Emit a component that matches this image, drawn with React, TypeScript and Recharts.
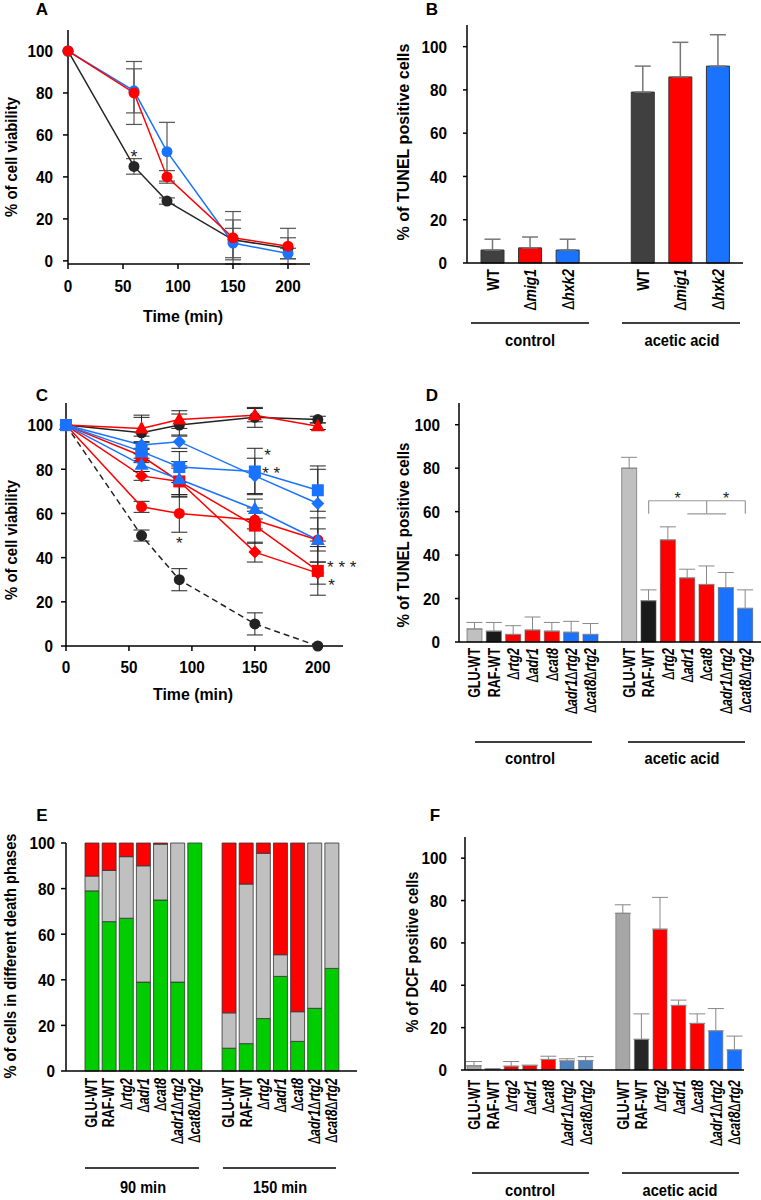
import React from 'react';
import {
  LineChart,
  Line,
  BarChart,
  Bar,
  XAxis,
  YAxis,
  ErrorBar,
  Cell,
  ReferenceLine,
  ReferenceDot,
} from 'recharts';

const FONT = "'Liberation Sans', Arial, sans-serif";

// ---- panel A: viability over time ----
const timeA = [0, 60, 90, 150, 200];
const wtA = [100, 45, 28.5, 10, 6];
const wtErrA = [0, 3.7, 1.5, 9.5, 5];
const mig1A = [100, 80, 40, 11, 7];
const mig1ErrA = [0, 15, 3, 12.5, 8.5];
const hxk2A = [100, 81, 52, 8.5, 3.5];
const hxk2ErrA = [0, 10.5, 14, 7, 2.5];

// ---- panel B: TUNEL ----
const strainsB = ['WT', 'Δmig1', 'Δhxk2'];
const controlB = [6, 7, 6];
const controlErrB = [5, 5, 5];
const aceticB = [79, 86, 91];
const aceticErrB = [12, 16, 14.5];

// ---- panel C: viability, raffinose strains ----
const timeC = [0, 60, 90, 150, 200];
const gluWtC = [100, 50, 30, 10, 0];
const gluWtErrC = [0, 2.5, 5, 5, 0];
const rafWtC = [100, 96.5, 100, 103.5, 102.5];
const rafWtErrC = [0, 7, 5, 4.5, 1.5];
const redTriC = [100, 98.5, 102.5, 104.5, 99.5];
const redTriErrC = [0, 6, 4, 3, 1.5];
const redCircC = [100, 63, 60, 57, 48];
const redCircErrC = [0, 2.5, 8.5, 4, 10];
const redDiaC = [100, 77, 74.5, 42.5, 33];
const redDiaErrC = [0, 2, 6, 4.5, 5];
const redSqC = [100, 86, 74.5, 54.5, 34];
const redSqErrC = [0, 3, 7, 8, 11];
const blueDiaC = [100, 91, 92.5, 77, 64.5];
const blueDiaErrC = [0, 4, 3, 8, 17];
const blueSqC = [100, 88, 81, 79, 70.5];
const blueSqErrC = [0, 4, 7, 10.5, 9.5];
const blueTriC = [100, 82, 75.5, 62, 48];
const blueTriErrC = [0, 3, 8, 4.5, 5];
const starsC = [
  { t: 160, v: 88, text: '*' },
  { t: 163, v: 80, text: '* *' },
  { t: 90, v: 48.5, text: '*' },
  { t: 219, v: 37.5, text: '* * *' },
  { t: 211, v: 29.5, text: '*' },
];

// ---- panels D-F ----
const strainsD = ['GLU-WT', 'RAF-WT', 'Δrtg2', 'Δadr1', 'Δcat8', 'Δadr1Δrtg2', 'Δcat8Δrtg2'];

const controlD = [6, 5, 3.5, 5.5, 5, 4.5, 3.5];
const controlErrD = [3, 4, 4, 6, 4, 5, 5];
const aceticD = [80, 19, 47, 29.5, 26.5, 25, 15.5];
const aceticErrD = [5, 5, 6, 4, 8.5, 7, 8.5];

const green90E = [79, 65.5, 67, 39, 75, 39, 100];
const gray90E = [6.5, 22.5, 27, 51, 24.5, 61, 0];
const red90E = [14.5, 12, 6, 10, 0.5, 0, 0];
const green150E = [10, 12, 23, 41.5, 13, 27.5, 45];
const gray150E = [15.5, 70, 72.5, 9.5, 13, 72.5, 55];
const red150E = [74.5, 18, 4.5, 49, 74, 0, 0];

const controlF = [2, 0.5, 1.8, 2.2, 5, 4.3, 4.5];
const controlErrF = [2, 0, 2.2, 0, 1.5, 1, 1.8];
const aceticF = [74, 14.5, 66.5, 30.5, 22, 18.5, 9.5];
const aceticErrF = [4, 12, 15, 2.5, 4.5, 10.5, 6.5];

const pctTicks = [0, 20, 40, 60, 80, 100];
const timeTicks = [0, 50, 100, 150, 200];

const RED = '#ff0000';
const BLUE = '#1a73ff';

type BarRow = { key: string; label: string; v: number | null; err: [number, number] | null; fill: string };

function groupRows(labels: string[], ctrl: number[], ctrlErr: number[], acid: number[], acidErr: number[], ctrlFill: string[], acidFill: string[]): BarRow[] {
  const rows: BarRow[] = labels.map((l, i) => ({ key: 'c' + i, label: l, v: ctrl[i], err: [0, ctrlErr[i]], fill: ctrlFill[i] }));
  rows.push({ key: 'gap', label: '', v: null, err: null, fill: 'none' });
  labels.forEach((l, i) => rows.push({ key: 'a' + i, label: l, v: acid[i], err: [0, acidErr[i]], fill: acidFill[i] }));
  return rows;
}

const rowsA = timeA.map((t, i) => ({ t, wt: wtA[i], wtErr: wtErrA[i], mig1: mig1A[i], mig1Err: mig1ErrA[i], hxk2: hxk2A[i], hxk2Err: hxk2ErrA[i] }));

const rowsB = groupRows(strainsB, controlB, controlErrB, aceticB, aceticErrB, ['#404040', RED, BLUE], ['#404040', RED, BLUE]);

const seriesC = [
  { key: 'gluWt', vals: gluWtC, err: gluWtErrC, color: '#222', shape: 'circle', dash: '6 4' },
  { key: 'rafWt', vals: rafWtC, err: rafWtErrC, color: '#222', shape: 'circle' },
  { key: 'redTri', vals: redTriC, err: redTriErrC, color: RED, shape: 'triangle' },
  { key: 'redCirc', vals: redCircC, err: redCircErrC, color: RED, shape: 'circle' },
  { key: 'redDia', vals: redDiaC, err: redDiaErrC, color: RED, shape: 'diamond' },
  { key: 'redSq', vals: redSqC, err: redSqErrC, color: RED, shape: 'square' },
  { key: 'blueDia', vals: blueDiaC, err: blueDiaErrC, color: BLUE, shape: 'diamond' },
  { key: 'blueSq', vals: blueSqC, err: blueSqErrC, color: BLUE, shape: 'square' },
  { key: 'blueTri', vals: blueTriC, err: blueTriErrC, color: BLUE, shape: 'triangle' },
];
const rowsC = timeC.map((t, i) => {
  const r: any = { t };
  seriesC.forEach((s) => {
    r[s.key] = s.vals[i];
    r[s.key + 'Err'] = s.err[i];
  });
  return r;
});

const rowsD = groupRows(strainsD, controlD, controlErrD, aceticD, aceticErrD,
  ['#c0c0c0', '#1a1a1a', RED, RED, RED, BLUE, BLUE],
  ['#c0c0c0', '#1a1a1a', RED, RED, RED, BLUE, BLUE]);

const rowsE = [
  ...strainsD.map((l, i) => ({ key: 'c' + i, label: l, green: green90E[i], gray: gray90E[i], red: red90E[i] })),
  { key: 'gap', label: '', green: null, gray: null, red: null },
  ...strainsD.map((l, i) => ({ key: 'a' + i, label: l, green: green150E[i], gray: gray150E[i], red: red150E[i] })),
];

const rowsF = groupRows(strainsD, controlF, controlErrF, aceticF, aceticErrF,
  ['#a6a6a6', '#262626', RED, RED, RED, '#4f81bd', '#4f81bd'],
  ['#a6a6a6', '#262626', RED, RED, RED, BLUE, BLUE]);

const axisLine = { stroke: '#000', strokeWidth: 1.5 };
const NUM_SCALE = 0.9;

// number ticks, slightly squeezed to mimic the condensed bold face
const YNumTick = (props: any) => {
  const { x, y, payload } = props;
  return (
    <text transform={`translate(${x},${y}) scale(${NUM_SCALE},1)`} textAnchor="end" dominantBaseline="central" fontSize={17} fontWeight={700} fontFamily={FONT} fill="#000">
      {payload.value}
    </text>
  );
};
const XNumTick = (props: any) => {
  const { x, y, payload } = props;
  return (
    <text transform={`translate(${x},${y}) scale(${NUM_SCALE},1)`} textAnchor="middle" dy="0.71em" fontSize={17} fontWeight={700} fontFamily={FONT} fill="#000">
      {payload.value}
    </text>
  );
};

function LabelText({ text }: { text: string }) {
  const parts = text.split('Δ');
  return (
    <>
      {parts.map((p, i) => (
        <React.Fragment key={i}>
          {i > 0 && <tspan fontWeight={400} fontStyle="normal" fontFamily="'DejaVu Sans', sans-serif" fontSize="0.95em">Δ</tspan>}
          {p && <tspan fontStyle={i > 0 ? 'italic' : 'normal'}>{p}</tspan>}
        </React.Fragment>
      ))}
    </>
  );
}

const makeCatTick = (rows: { key: string; label: string }[], fontSize: number, squeeze: number) => (props: any) => {
  const { x, y, payload } = props;
  const row = rows.find((r) => r.key === payload.value);
  if (!row || !row.label) return <g />;
  return (
    <g transform={`translate(${x},${y})`}>
      <text transform={`rotate(-90) scale(${squeeze},1)`} textAnchor="end" dy="0.36em" fontSize={fontSize} fontWeight={700} fontFamily={FONT} fill="#000">
        <LabelText text={row.label} />
      </text>
    </g>
  );
};

function Marker({ cx, cy, shape, color }: { cx?: number; cy?: number; shape: string; color: string }) {
  if (cx == null || cy == null) return null;
  if (shape === 'square') return <rect x={cx - 6} y={cy - 6} width={12} height={12} fill={color} />;
  if (shape === 'triangle') return <polygon points={`${cx},${cy - 7.5} ${cx + 7},${cy + 5} ${cx - 7},${cy + 5}`} fill={color} />;
  if (shape === 'diamond') return <polygon points={`${cx},${cy - 6.5} ${cx + 6.5},${cy} ${cx},${cy + 6.5} ${cx - 6.5},${cy}`} fill={color} />;
  return <circle cx={cx} cy={cy} r={5.5} fill={color} />;
}

const star = (text: string, size = 18, dx = 0) => (p: any) => (
  <text x={p.cx + dx} y={p.cy + size * 0.58} textAnchor="middle" fontSize={size} fontFamily={FONT} fill="#222">
    {text}
  </text>
);

// overlay texts (titles, panel letters, group labels)
const T = ({ x, y, children, size = 17, len, rotate = false }: any) => (
  <text
    x={x}
    y={y}
    textAnchor="middle"
    dominantBaseline="central"
    fontSize={size}
    fontWeight={700}
    fontFamily={FONT}
    fill="#000"
    textLength={len}
    lengthAdjust={len ? 'spacingAndGlyphs' : undefined}
    transform={rotate ? `rotate(-90 ${x} ${y})` : undefined}
  >
    {children}
  </text>
);
const HL = ({ x1, x2, y }: { x1: number; x2: number; y: number }) => <line x1={x1} x2={x2} y1={y} y2={y} stroke="#000" strokeWidth={1.5} />;

const Box = ({ left, top, children }: any) => <div style={{ position: 'absolute', left, top }}>{children}</div>;

export default function App() {
  return (
    <div style={{ position: 'absolute', left: 0, top: 0, width: 761, height: 1200, background: '#fff', fontFamily: FONT }}>
      {/* A */}
      <Box left={0} top={0}>
        <LineChart width={330} height={300} data={rowsA} margin={{ top: 30, right: 20, bottom: 6, left: 0 }}>
          <XAxis dataKey="t" type="number" domain={[0, 220]} ticks={timeTicks} height={30} tickSize={5} tickMargin={11} axisLine={axisLine} tickLine={axisLine} tick={<XNumTick />} />
          <YAxis type="number" domain={[0, 110]} ticks={pctTicks} width={68} tickSize={5} tickMargin={10} axisLine={axisLine} tickLine={axisLine} tick={<YNumTick />} />
          <Line dataKey="wt" stroke="#262626" strokeWidth={1.5} isAnimationActive={false} dot={(p: any) => <Marker key={'wt' + p.index} cx={p.cx} cy={p.cy} shape="circle" color="#262626" />}>
            <ErrorBar dataKey="wtErr" direction="y" width={8} stroke="#555" strokeWidth={1.2} />
          </Line>
          <Line dataKey="hxk2" stroke={BLUE} strokeWidth={1.5} isAnimationActive={false} dot={(p: any) => <Marker key={'hx' + p.index} cx={p.cx} cy={p.cy} shape="circle" color={BLUE} />}>
            <ErrorBar dataKey="hxk2Err" direction="y" width={8} stroke="#555" strokeWidth={1.2} />
          </Line>
          <Line dataKey="mig1" stroke={RED} strokeWidth={1.5} isAnimationActive={false} dot={(p: any) => <Marker key={'mg' + p.index} cx={p.cx} cy={p.cy} shape="circle" color={RED} />}>
            <ErrorBar dataKey="mig1Err" direction="y" width={8} stroke="#555" strokeWidth={1.2} />
          </Line>
          <ReferenceDot x={60} y={51.6} r={0} shape={star('*')} />
        </LineChart>
      </Box>

      {/* B */}
      <Box left={380} top={0}>
        <BarChart width={381} height={350} data={rowsB} margin={{ top: 25, right: 18, bottom: 7, left: 0 }}>
          <XAxis dataKey="key" height={80} interval={0} padding={{ left: 7, right: 6 }} tickLine={false} tickSize={0} tickMargin={6} axisLine={axisLine} tick={makeCatTick(rowsB, 16, 0.87)} />
          <YAxis type="number" domain={[0, 110]} ticks={pctTicks} width={87} tickSize={4} tickMargin={16} axisLine={axisLine} tickLine={axisLine} tick={<YNumTick />} />
          <Bar dataKey="v" barSize={23} stroke="#333" strokeWidth={1} isAnimationActive={false}>
            {rowsB.map((r) => <Cell key={r.key} fill={r.fill} />)}
            <ErrorBar dataKey="err" width={8} stroke="#777" strokeWidth={1.5} />
          </Bar>
        </BarChart>
      </Box>

      {/* C */}
      <Box left={0} top={380}>
        <LineChart width={360} height={330} data={rowsC} margin={{ top: 23, right: 17, bottom: 34, left: 0 }}>
          <XAxis dataKey="t" type="number" domain={[0, 220]} ticks={timeTicks} height={30} tickSize={5} tickMargin={10} axisLine={axisLine} tickLine={axisLine} tick={<XNumTick />} />
          <YAxis type="number" domain={[0, 110]} ticks={pctTicks} width={66} tickSize={5} tickMargin={8} axisLine={axisLine} tickLine={axisLine} tick={<YNumTick />} />
          {seriesC.map((s) => (
            <Line
              key={s.key}
              dataKey={s.key}
              stroke={s.color}
              strokeWidth={1.5}
              strokeDasharray={s.dash}
              isAnimationActive={false}
              dot={(p: any) => <Marker key={s.key + p.index} cx={p.cx} cy={p.cy} shape={s.shape} color={s.color} />}
            >
              <ErrorBar dataKey={s.key + 'Err'} direction="y" width={8} stroke="#222" strokeWidth={1} />
            </Line>
          ))}
          {starsC.map((s, i) => (
            <ReferenceDot key={i} x={s.t} y={s.v} r={0} ifOverflow="visible" shape={star(s.text, 17)} />
          ))}
        </LineChart>
      </Box>

      {/* D */}
      <Box left={380} top={380}>
        <BarChart width={381} height={370} data={rowsD} margin={{ top: 23, right: 0, bottom: 8, left: 0 }}>
          <XAxis dataKey="key" height={100} interval={0} padding={{ left: 6, right: 6 }} tickLine={false} tickSize={0} tickMargin={6} axisLine={axisLine} tick={makeCatTick(rowsD, 16, 0.78)} />
          <YAxis type="number" domain={[0, 110]} ticks={pctTicks} width={79} tickSize={4} tickMargin={15} axisLine={axisLine} tickLine={axisLine} tick={<YNumTick />} />
          <Bar dataKey="v" barSize={15} stroke="#555" strokeWidth={0.6} isAnimationActive={false}>
            {rowsD.map((r) => <Cell key={r.key} fill={r.fill} />)}
            <ErrorBar dataKey="err" width={8} stroke="#888" strokeWidth={1} />
          </Bar>
          <ReferenceLine segment={[{ x: 'a1', y: 65 }, { x: 'a6', y: 65 }]} stroke="#999" strokeWidth={1.2} />
          <ReferenceLine segment={[{ x: 'a1', y: 65 }, { x: 'a1', y: 59 }]} stroke="#999" strokeWidth={1.2} />
          <ReferenceLine segment={[{ x: 'a6', y: 65 }, { x: 'a6', y: 59 }]} stroke="#999" strokeWidth={1.2} />
          <ReferenceLine segment={[{ x: 'a4', y: 65 }, { x: 'a4', y: 59 }]} stroke="#999" strokeWidth={1.2} />
          <ReferenceLine segment={[{ x: 'a3', y: 59 }, { x: 'a5', y: 59 }]} stroke="#999" strokeWidth={1.2} />
          <ReferenceDot x="a2" y={67.8} r={0} shape={star('*', 16, 9.6)} />
          <ReferenceDot x="a5" y={67.8} r={0} shape={star('*', 16)} />
        </BarChart>
      </Box>

      {/* E */}
      <Box left={0} top={820}>
        <BarChart width={370} height={356} data={rowsE} margin={{ top: 23, right: 13, bottom: 5, left: 0 }}>
          <XAxis dataKey="key" height={100} interval={0} padding={{ left: 17, right: 17 }} tickLine={false} tickSize={0} tickMargin={7} axisLine={axisLine} tick={makeCatTick(rowsE, 16, 0.78)} />
          <XAxis xAxisId="top" dataKey="key" orientation="top" height={0} padding={{ left: 17, right: 17 }} tick={false} tickLine={false} axisLine={axisLine} />
          <YAxis type="number" domain={[0, 100]} ticks={pctTicks} width={66} tickSize={5} tickMargin={6} axisLine={axisLine} tickLine={axisLine} tick={<YNumTick />} />
          <YAxis yAxisId="r" orientation="right" type="number" domain={[0, 100]} width={0} tick={false} tickLine={false} axisLine={axisLine} />
          <Bar dataKey="green" stackId="s" barSize={14} fill="#00cc00" stroke="#333" strokeWidth={0.8} isAnimationActive={false} />
          <Bar dataKey="gray" stackId="s" barSize={14} fill="#c0c0c0" stroke="#333" strokeWidth={0.8} isAnimationActive={false} />
          <Bar dataKey="red" stackId="s" barSize={14} fill="#ff0000" stroke="#333" strokeWidth={0.8} isAnimationActive={false} />
        </BarChart>
      </Box>

      {/* F */}
      <Box left={380} top={815}>
        <BarChart width={381} height={360} data={rowsF} margin={{ top: 22, right: 17, bottom: 5, left: 0 }}>
          <XAxis dataKey="key" height={100} interval={0} padding={{ left: 0, right: 0 }} tickLine={false} tickSize={0} tickMargin={10} axisLine={axisLine} tick={makeCatTick(rowsF, 16, 0.78)} />
          <YAxis type="number" domain={[0, 110]} ticks={pctTicks} width={85} tickSize={4} tickMargin={14} axisLine={axisLine} tickLine={axisLine} tick={<YNumTick />} />
          <Bar dataKey="v" barSize={14} stroke="#666" strokeWidth={0.6} isAnimationActive={false}>
            {rowsF.map((r) => <Cell key={r.key} fill={r.fill} />)}
            <ErrorBar dataKey="err" width={8} stroke="#888" strokeWidth={1} />
          </Bar>
        </BarChart>
      </Box>

      <svg width={761} height={1200} style={{ position: 'absolute', left: 0, top: 0, pointerEvents: 'none' }}>
        <T x={42} y={9}>A</T>
        <T x={11} y={157} len={120} rotate>% of cell viability</T>
        <T x={183} y={316} len={80}>Time (min)</T>

        <T x={432} y={9}>B</T>
        <T x={403} y={142} len={197} rotate>% of TUNEL positive cells</T>
        <HL x1={471} x2={589} y={323} />
        <HL x1={622} x2={740} y={323} />
        <T x={530} y={340} len={50}>control</T>
        <T x={682} y={340} len={75}>acetic acid</T>

        <T x={42} y={395}>C</T>
        <T x={11} y={540} len={120} rotate>% of cell viability</T>
        <T x={193} y={694} len={80}>Time (min)</T>

        <T x={432} y={395}>D</T>
        <T x={403} y={535} len={185} rotate>% of TUNEL positive cells</T>
        <HL x1={475} x2={592} y={742} />
        <HL x1={628} x2={745} y={742} />
        <T x={530} y={758} len={50}>control</T>
        <T x={682} y={758} len={75}>acetic acid</T>

        <T x={42} y={815}>E</T>
        <T x={10} y={956} size={16} len={245} rotate>% of cells in different death phases</T>
        <HL x1={85} x2={199} y={1168} />
        <HL x1={223} x2={336} y={1168} />
        <T x={143} y={1187} len={46}>90 min</T>
        <T x={280} y={1187} len={54}>150 min</T>

        <T x={435} y={815}>F</T>
        <T x={412} y={952} len={161} rotate>% of DCF positive cells</T>
        <HL x1={472} x2={589} y={1173} />
        <HL x1={622} x2={739} y={1173} />
        <T x={530} y={1190} len={50}>control</T>
        <T x={680} y={1190} len={75}>acetic acid</T>
      </svg>
    </div>
  );
}
